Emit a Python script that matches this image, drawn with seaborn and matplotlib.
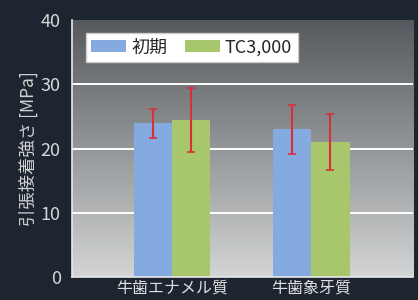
import numpy as np
import pandas as pd
import seaborn as sns
import matplotlib.pyplot as plt

# ========= DATA =========
categories = ["牛歯エナメル質", "牛歯象牙質"]
series = ["初期", "TC3,000"]
initial_vals = [23.9, 23.0]
tc_vals = [24.5, 21.0]
initial_err = [2.3, 3.8]
tc_err = [5.0, 4.4]
yticks = [0, 10, 20, 30, 40]

df = pd.DataFrame({
    "material": categories * 2,
    "cond": [series[0]] * 2 + [series[1]] * 2,
    "mpa": initial_vals + tc_vals,
})
errs = initial_err + tc_err

sns.set_style("white")
plt.rcParams["font.family"] = ["Noto Sans CJK JP", "DejaVu Sans"]

fig = plt.figure(figsize=(4.18, 3.0), dpi=100)
fig.patch.set_facecolor("#1d2531")
ax = fig.add_axes([0.172, 0.077, 0.816, 0.856])

# gradient background of the plot area (dark at top, light at bottom)
grad = np.linspace(0, 1, 256).reshape(-1, 1)
ax.imshow(grad, cmap=sns.blend_palette(["#56595d", "#d2d4d5"], as_cmap=True),
          extent=[0, 1, 0, 1], transform=ax.transAxes, aspect="auto", zorder=0)

sns.barplot(data=df, x="material", y="mpa", hue="cond", hue_order=series,
            palette=["#84aae0", "#a8c66c"], width=0.55, errorbar=None,
            saturation=1, linewidth=0, ax=ax, zorder=2)

# error bars at bar centres
bars = [p for p in ax.patches if p.get_height() > 0]
for p, e in zip(bars, errs):
    ax.errorbar(p.get_x() + p.get_width() / 2, p.get_height(), yerr=e,
                fmt="none", ecolor="#d8303a", elinewidth=1.5, capsize=3,
                capthick=1.2, zorder=4)

ax.set_ylim(0, 40)
ax.set_xlim(-0.717, 1.73)
ax.set_yticks(yticks)
for y in yticks[1:4]:
    ax.axhline(y, color="white", lw=1.4, zorder=1)

for s in ["top", "right"]:
    ax.spines[s].set_visible(False)
ax.spines["left"].set_color("#e8e8e8")
ax.spines["bottom"].set_color("#e8e8e8")
ax.spines["left"].set_linewidth(1.2)
ax.spines["bottom"].set_linewidth(1.2)

ax.tick_params(axis="y", colors="#d8d8d8", labelsize=13, length=0, pad=8)
ax.tick_params(axis="x", colors="#e0e0e0", labelsize=11.5, length=0, pad=2)
ax.set_xlabel("")
ax.set_ylabel("引張接着強さ [MPa]", color="#d0d0d0", fontsize=12.5, labelpad=2)

leg = ax.legend(loc="upper left", ncol=2, frameon=True, fancybox=False,
                fontsize=13, handlelength=1.9, handleheight=0.6,
                columnspacing=1.0, handletextpad=0.3,
                bbox_to_anchor=(0.015, 0.985), borderpad=0.3)
leg.get_frame().set_facecolor("white")
leg.get_frame().set_edgecolor("#cccccc")
leg.get_frame().set_alpha(1)

fig.savefig("out.png", dpi=100, facecolor=fig.get_facecolor())
